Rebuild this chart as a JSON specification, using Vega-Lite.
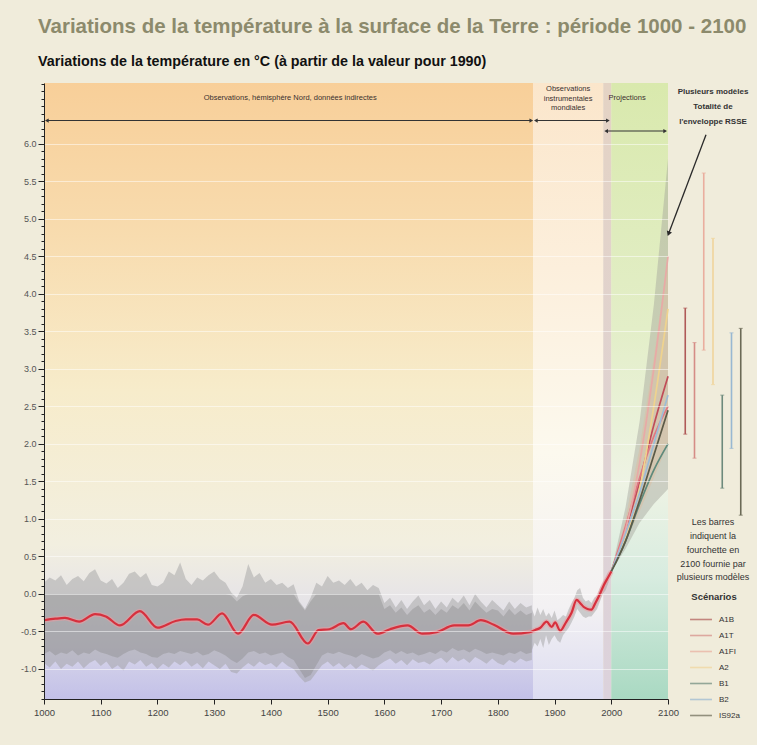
{
  "$schema": "https://vega.github.io/schema/vega-lite/v6.json",
  "background": "#f0ecdb",
  "padding": {"left": 5, "right": 7, "top": 17, "bottom": 26},
  "spacing": 8,
  "bounds": "flush",
  "title": {
    "text": "Variations de la température à la surface de la Terre : période 1000 - 2100",
    "subtitle": "Variations de la température en °C (à partir de la valeur pour 1990)",
    "anchor": "start", "frame": "group", "dx": -6, "offset": 14,
    "font": "Liberation Sans", "fontSize": 20.5, "fontWeight": "bold", "color": "#8c8a6c",
    "subtitleFont": "Liberation Sans", "subtitleFontSize": 14.3, "subtitleFontWeight": "bold",
    "subtitleColor": "#111111", "subtitlePadding": 17
  },
  "config": {"view": {"stroke": null}},
  "resolve": {"scale": {"color": "independent"}, "legend": {"color": "independent"}},
  "datasets": {
    "regions": [
      {"region": "proxy", "start": 1000, "end": 1862},
      {"region": "instr", "start": 1862, "end": 1986},
      {"region": "strip", "start": 1986, "end": 2000},
      {"region": "proj", "start": 2000, "end": 2100}
    ],
    "proxyband": [
      {"year": 1000, "hi": 0.15, "hi2": 0.0, "lo2": -0.8, "lo": -0.92},
      {"year": 1010, "hi": 0.22, "hi2": 0.0, "lo2": -0.76, "lo": -0.98},
      {"year": 1020, "hi": 0.18, "hi2": 0.0, "lo2": -0.82, "lo": -0.9},
      {"year": 1030, "hi": 0.25, "hi2": 0.0, "lo2": -0.78, "lo": -1.0},
      {"year": 1040, "hi": 0.12, "hi2": 0.0, "lo2": -0.8, "lo": -0.93},
      {"year": 1050, "hi": 0.2, "hi2": 0.0, "lo2": -0.75, "lo": -0.97},
      {"year": 1060, "hi": 0.24, "hi2": 0.0, "lo2": -0.82, "lo": -0.9},
      {"year": 1070, "hi": 0.17, "hi2": 0.0, "lo2": -0.78, "lo": -0.99},
      {"year": 1080, "hi": 0.28, "hi2": 0.0, "lo2": -0.8, "lo": -0.92},
      {"year": 1090, "hi": 0.33, "hi2": 0.0, "lo2": -0.74, "lo": -0.88},
      {"year": 1100, "hi": 0.18, "hi2": 0.0, "lo2": -0.78, "lo": -0.96},
      {"year": 1110, "hi": 0.14, "hi2": 0.0, "lo2": -0.8, "lo": -0.9},
      {"year": 1120, "hi": 0.2, "hi2": 0.0, "lo2": -0.83, "lo": -1.0},
      {"year": 1130, "hi": 0.08, "hi2": 0.0, "lo2": -0.85, "lo": -0.95},
      {"year": 1140, "hi": 0.15, "hi2": 0.0, "lo2": -0.8, "lo": -1.02},
      {"year": 1150, "hi": 0.27, "hi2": 0.0, "lo2": -0.76, "lo": -0.9},
      {"year": 1160, "hi": 0.3, "hi2": 0.0, "lo2": -0.74, "lo": -0.94},
      {"year": 1170, "hi": 0.22, "hi2": 0.0, "lo2": -0.78, "lo": -0.88},
      {"year": 1180, "hi": 0.28, "hi2": 0.0, "lo2": -0.8, "lo": -0.97},
      {"year": 1190, "hi": 0.12, "hi2": 0.0, "lo2": -0.84, "lo": -0.92},
      {"year": 1200, "hi": 0.1, "hi2": 0.0, "lo2": -0.85, "lo": -1.0},
      {"year": 1210, "hi": 0.15, "hi2": 0.0, "lo2": -0.8, "lo": -0.93},
      {"year": 1220, "hi": 0.3, "hi2": 0.0, "lo2": -0.78, "lo": -0.98},
      {"year": 1230, "hi": 0.25, "hi2": 0.0, "lo2": -0.8, "lo": -0.9},
      {"year": 1240, "hi": 0.42, "hi2": 0.0, "lo2": -0.76, "lo": -0.95},
      {"year": 1250, "hi": 0.2, "hi2": 0.0, "lo2": -0.78, "lo": -0.89},
      {"year": 1260, "hi": 0.12, "hi2": 0.0, "lo2": -0.8, "lo": -0.97},
      {"year": 1270, "hi": 0.22, "hi2": 0.0, "lo2": -0.77, "lo": -0.92},
      {"year": 1280, "hi": 0.18, "hi2": 0.0, "lo2": -0.82, "lo": -0.99},
      {"year": 1290, "hi": 0.25, "hi2": 0.0, "lo2": -0.8, "lo": -0.9},
      {"year": 1300, "hi": 0.3, "hi2": 0.0, "lo2": -0.75, "lo": -0.95},
      {"year": 1310, "hi": 0.2, "hi2": 0.0, "lo2": -0.78, "lo": -1.0},
      {"year": 1320, "hi": 0.15, "hi2": 0.0, "lo2": -0.82, "lo": -0.93},
      {"year": 1330, "hi": 0.02, "hi2": -0.02, "lo2": -0.88, "lo": -1.04},
      {"year": 1340, "hi": -0.05, "hi2": -0.1, "lo2": -0.92, "lo": -1.06},
      {"year": 1350, "hi": 0.1, "hi2": -0.03, "lo2": -0.86, "lo": -0.98},
      {"year": 1360, "hi": 0.4, "hi2": 0.0, "lo2": -0.78, "lo": -0.92},
      {"year": 1370, "hi": 0.22, "hi2": 0.0, "lo2": -0.76, "lo": -0.97},
      {"year": 1380, "hi": 0.28, "hi2": 0.0, "lo2": -0.8, "lo": -0.9},
      {"year": 1390, "hi": 0.15, "hi2": 0.0, "lo2": -0.78, "lo": -0.95},
      {"year": 1400, "hi": 0.2, "hi2": 0.0, "lo2": -0.82, "lo": -0.92},
      {"year": 1410, "hi": 0.12, "hi2": 0.0, "lo2": -0.8, "lo": -0.98},
      {"year": 1420, "hi": 0.15, "hi2": 0.0, "lo2": -0.78, "lo": -0.9},
      {"year": 1430, "hi": 0.08, "hi2": 0.0, "lo2": -0.84, "lo": -0.96},
      {"year": 1440, "hi": 0.13, "hi2": 0.0, "lo2": -0.88, "lo": -1.0},
      {"year": 1450, "hi": -0.1, "hi2": -0.12, "lo2": -1.0, "lo": -1.1},
      {"year": 1460, "hi": -0.2, "hi2": -0.22, "lo2": -1.12, "lo": -1.18},
      {"year": 1470, "hi": -0.05, "hi2": -0.1, "lo2": -1.08, "lo": -1.15},
      {"year": 1480, "hi": 0.15, "hi2": 0.0, "lo2": -0.95, "lo": -1.05},
      {"year": 1490, "hi": 0.1, "hi2": 0.0, "lo2": -0.82, "lo": -0.95},
      {"year": 1500, "hi": 0.24, "hi2": 0.0, "lo2": -0.78, "lo": -0.9},
      {"year": 1510, "hi": 0.15, "hi2": 0.0, "lo2": -0.8, "lo": -0.97},
      {"year": 1520, "hi": 0.18, "hi2": 0.0, "lo2": -0.77, "lo": -0.92},
      {"year": 1530, "hi": 0.12, "hi2": 0.0, "lo2": -0.8, "lo": -0.99},
      {"year": 1540, "hi": 0.2, "hi2": 0.0, "lo2": -0.82, "lo": -0.93},
      {"year": 1550, "hi": 0.1, "hi2": 0.0, "lo2": -0.85, "lo": -1.0},
      {"year": 1560, "hi": 0.15, "hi2": 0.0, "lo2": -0.8, "lo": -0.94},
      {"year": 1570, "hi": 0.05, "hi2": 0.0, "lo2": -0.83, "lo": -0.98},
      {"year": 1580, "hi": 0.12, "hi2": 0.0, "lo2": -0.86, "lo": -1.02},
      {"year": 1590, "hi": 0.08, "hi2": 0.0, "lo2": -0.84, "lo": -0.95},
      {"year": 1600, "hi": -0.12, "hi2": -0.2, "lo2": -0.78, "lo": -0.9},
      {"year": 1610, "hi": -0.05, "hi2": -0.15, "lo2": -0.75, "lo": -0.86},
      {"year": 1620, "hi": -0.18, "hi2": -0.25, "lo2": -0.8, "lo": -0.93},
      {"year": 1630, "hi": -0.08, "hi2": -0.18, "lo2": -0.76, "lo": -0.88},
      {"year": 1640, "hi": -0.2, "hi2": -0.28, "lo2": -0.8, "lo": -0.95},
      {"year": 1650, "hi": -0.1, "hi2": -0.2, "lo2": -0.78, "lo": -0.87},
      {"year": 1660, "hi": -0.02, "hi2": -0.15, "lo2": -0.82, "lo": -0.92},
      {"year": 1670, "hi": -0.15, "hi2": -0.25, "lo2": -0.8, "lo": -0.9},
      {"year": 1680, "hi": -0.08, "hi2": -0.2, "lo2": -0.77, "lo": -0.94},
      {"year": 1690, "hi": -0.2, "hi2": -0.28, "lo2": -0.8, "lo": -0.88},
      {"year": 1700, "hi": -0.1, "hi2": -0.2, "lo2": -0.75, "lo": -0.85},
      {"year": 1710, "hi": -0.18, "hi2": -0.25, "lo2": -0.78, "lo": -0.92},
      {"year": 1720, "hi": -0.05, "hi2": -0.15, "lo2": -0.72, "lo": -0.84},
      {"year": 1730, "hi": -0.12, "hi2": -0.2, "lo2": -0.76, "lo": -0.9},
      {"year": 1740, "hi": -0.02, "hi2": -0.12, "lo2": -0.74, "lo": -0.86},
      {"year": 1750, "hi": -0.15, "hi2": -0.22, "lo2": -0.78, "lo": -0.92},
      {"year": 1760, "hi": 0.0, "hi2": -0.1, "lo2": -0.73, "lo": -0.84},
      {"year": 1770, "hi": -0.1, "hi2": -0.18, "lo2": -0.76, "lo": -0.88},
      {"year": 1780, "hi": -0.18, "hi2": -0.25, "lo2": -0.8, "lo": -0.93},
      {"year": 1790, "hi": -0.08, "hi2": -0.2, "lo2": -0.78, "lo": -0.86},
      {"year": 1800, "hi": -0.15, "hi2": -0.22, "lo2": -0.8, "lo": -0.92},
      {"year": 1810, "hi": -0.22, "hi2": -0.3, "lo2": -0.82, "lo": -0.95},
      {"year": 1820, "hi": -0.1, "hi2": -0.2, "lo2": -0.78, "lo": -0.88},
      {"year": 1830, "hi": -0.2, "hi2": -0.28, "lo2": -0.8, "lo": -0.92},
      {"year": 1840, "hi": -0.12, "hi2": -0.22, "lo2": -0.76, "lo": -0.86},
      {"year": 1850, "hi": -0.18, "hi2": -0.28, "lo2": -0.8, "lo": -0.9},
      {"year": 1860, "hi": -0.15, "hi2": -0.25, "lo2": -0.78, "lo": -0.88}
    ],
    "instr": [
      {"year": 1860, "hi": -0.2, "lo": -0.75},
      {"year": 1865, "hi": -0.3, "lo": -0.65},
      {"year": 1870, "hi": -0.18, "lo": -0.7},
      {"year": 1875, "hi": -0.28, "lo": -0.6},
      {"year": 1880, "hi": -0.2, "lo": -0.72},
      {"year": 1885, "hi": -0.3, "lo": -0.55},
      {"year": 1890, "hi": -0.25, "lo": -0.68},
      {"year": 1895, "hi": -0.32, "lo": -0.6},
      {"year": 1900, "hi": -0.22, "lo": -0.55},
      {"year": 1905, "hi": -0.35, "lo": -0.62},
      {"year": 1910, "hi": -0.32, "lo": -0.65},
      {"year": 1915, "hi": -0.28, "lo": -0.55},
      {"year": 1920, "hi": -0.3, "lo": -0.5},
      {"year": 1925, "hi": -0.2, "lo": -0.45},
      {"year": 1930, "hi": -0.12, "lo": -0.38},
      {"year": 1935, "hi": -0.05, "lo": -0.3},
      {"year": 1940, "hi": 0.05, "lo": -0.2},
      {"year": 1945, "hi": 0.08, "lo": -0.25},
      {"year": 1950, "hi": -0.05, "lo": -0.3},
      {"year": 1955, "hi": -0.1, "lo": -0.32},
      {"year": 1960, "hi": -0.08, "lo": -0.3},
      {"year": 1965, "hi": -0.12, "lo": -0.3},
      {"year": 1970, "hi": -0.05, "lo": -0.25},
      {"year": 1975, "hi": -0.02, "lo": -0.2},
      {"year": 1980, "hi": 0.08, "lo": -0.1},
      {"year": 1985, "hi": 0.15, "lo": 0.0},
      {"year": 1990, "hi": 0.22, "lo": 0.05},
      {"year": 1995, "hi": 0.3, "lo": 0.15}
    ],
    "obs": [
      {"year": 1000, "temp": -0.35}, {"year": 1020, "temp": -0.33}, {"year": 1037, "temp": -0.32},
      {"year": 1062, "temp": -0.37}, {"year": 1090, "temp": -0.27}, {"year": 1109, "temp": -0.3},
      {"year": 1134, "temp": -0.42}, {"year": 1169, "temp": -0.23}, {"year": 1200, "temp": -0.45},
      {"year": 1232, "temp": -0.36}, {"year": 1250, "temp": -0.34}, {"year": 1270, "temp": -0.34},
      {"year": 1289, "temp": -0.41}, {"year": 1314, "temp": -0.26}, {"year": 1342, "temp": -0.53},
      {"year": 1370, "temp": -0.28}, {"year": 1402, "temp": -0.41}, {"year": 1433, "temp": -0.37},
      {"year": 1465, "temp": -0.66}, {"year": 1484, "temp": -0.48}, {"year": 1503, "temp": -0.47},
      {"year": 1528, "temp": -0.39}, {"year": 1541, "temp": -0.47}, {"year": 1563, "temp": -0.37},
      {"year": 1588, "temp": -0.53}, {"year": 1610, "temp": -0.47}, {"year": 1641, "temp": -0.42},
      {"year": 1667, "temp": -0.53}, {"year": 1692, "temp": -0.51}, {"year": 1723, "temp": -0.42},
      {"year": 1748, "temp": -0.42}, {"year": 1770, "temp": -0.35}, {"year": 1793, "temp": -0.41},
      {"year": 1827, "temp": -0.53}, {"year": 1856, "temp": -0.51}, {"year": 1866, "temp": -0.48},
      {"year": 1875, "temp": -0.45}, {"year": 1886, "temp": -0.37}, {"year": 1895, "temp": -0.44},
      {"year": 1901, "temp": -0.38}, {"year": 1910, "temp": -0.49}, {"year": 1920, "temp": -0.38},
      {"year": 1930, "temp": -0.25}, {"year": 1939, "temp": -0.08}, {"year": 1945, "temp": -0.12},
      {"year": 1951, "temp": -0.17}, {"year": 1958, "temp": -0.2}, {"year": 1965, "temp": -0.21},
      {"year": 1972, "temp": -0.12}, {"year": 1980, "temp": 0.0}, {"year": 1987, "temp": 0.12},
      {"year": 1995, "temp": 0.23}, {"year": 2000, "temp": 0.3}
    ],
    "env": [
      {"year": 2000, "oLo": 0.3, "oHi": 0.3, "iLo": 0.3, "iHi": 0.3},
      {"year": 2025, "oLo": 0.6, "oHi": 1.15, "iLo": 0.7, "iHi": 1.0},
      {"year": 2050, "oLo": 0.95, "oHi": 2.3, "iLo": 1.1, "iHi": 1.95},
      {"year": 2075, "oLo": 1.2, "oHi": 3.85, "iLo": 1.55, "iHi": 3.15},
      {"year": 2100, "oLo": 1.4, "oHi": 5.8, "iLo": 2.0, "iHi": 4.5}
    ],
    "scen": [
      {"scenario": "A1B", "year": 2000, "temp": 0.3}, {"scenario": "A1B", "year": 2025, "temp": 0.85}, {"scenario": "A1B", "year": 2050, "temp": 1.5}, {"scenario": "A1B", "year": 2075, "temp": 2.25}, {"scenario": "A1B", "year": 2100, "temp": 2.9},
      {"scenario": "A1T", "year": 2000, "temp": 0.3}, {"scenario": "A1T", "year": 2025, "temp": 0.9}, {"scenario": "A1T", "year": 2050, "temp": 1.55}, {"scenario": "A1T", "year": 2075, "temp": 2.1}, {"scenario": "A1T", "year": 2100, "temp": 2.5},
      {"scenario": "A1FI", "year": 2000, "temp": 0.3}, {"scenario": "A1FI", "year": 2025, "temp": 0.85}, {"scenario": "A1FI", "year": 2050, "temp": 1.75}, {"scenario": "A1FI", "year": 2075, "temp": 3.0}, {"scenario": "A1FI", "year": 2100, "temp": 4.5},
      {"scenario": "A2", "year": 2000, "temp": 0.3}, {"scenario": "A2", "year": 2025, "temp": 0.75}, {"scenario": "A2", "year": 2050, "temp": 1.4}, {"scenario": "A2", "year": 2075, "temp": 2.5}, {"scenario": "A2", "year": 2100, "temp": 3.8},
      {"scenario": "B1", "year": 2000, "temp": 0.3}, {"scenario": "B1", "year": 2025, "temp": 0.7}, {"scenario": "B1", "year": 2050, "temp": 1.2}, {"scenario": "B1", "year": 2075, "temp": 1.65}, {"scenario": "B1", "year": 2100, "temp": 2.0},
      {"scenario": "B2", "year": 2000, "temp": 0.3}, {"scenario": "B2", "year": 2025, "temp": 0.8}, {"scenario": "B2", "year": 2050, "temp": 1.35}, {"scenario": "B2", "year": 2075, "temp": 2.0}, {"scenario": "B2", "year": 2100, "temp": 2.65},
      {"scenario": "IS92a", "year": 2000, "temp": 0.3}, {"scenario": "IS92a", "year": 2025, "temp": 0.7}, {"scenario": "IS92a", "year": 2050, "temp": 1.25}, {"scenario": "IS92a", "year": 2075, "temp": 1.85}, {"scenario": "IS92a", "year": 2100, "temp": 2.45}
    ],
    "bars": [
      {"scenario": "A1B", "low": 2.13, "high": 3.81},
      {"scenario": "A1T", "low": 1.81, "high": 3.35},
      {"scenario": "A1FI", "low": 3.25, "high": 5.61},
      {"scenario": "A2", "low": 2.79, "high": 4.74},
      {"scenario": "B1", "low": 1.41, "high": 2.65},
      {"scenario": "B2", "low": 1.94, "high": 3.48},
      {"scenario": "IS92a", "low": 1.05, "high": 3.54}
    ],
    "labels": [
      {"label": "Observations, hémisphère Nord, données indirectes", "year": 1434, "temp": 6.67},
      {"label": "Observations\ninstrumentales\nmondiales", "year": 1924, "temp": 6.78},
      {"label": "Projections", "year": 2028, "temp": 6.67}
    ],
    "arrows": [
      {"start": 1005, "end": 1859, "temp": 6.31},
      {"start": 1867, "end": 1994, "temp": 6.31},
      {"start": 1991, "end": 2095, "temp": 6.17}
    ],
    "diag": [
      {"fromYear": 2167, "fromTemp": 6.12, "toYear": 2101, "toTemp": 4.8}
    ],
    "sidetext": [
      {"kind": "top", "label": "Plusieurs modèles\nTotalité de\nl'enveloppe RSSE", "temp": 6.74},
      {"kind": "bottom", "label": "Les barres\nindiquent la\nfourchette en\n2100 fournie par\nplusieurs modèles", "temp": 1.01}
    ]
  },
  "hconcat": [
    {
      "width": 624,
      "height": 616,
      "resolve": {"axis": {"y": "independent"}},
      "layer": [
        {
          "data": {"name": "regions"},
          "transform": [{"filter": "datum.region === 'proxy'"}],
          "mark": {"type": "rect", "color": {"gradient": "linear", "x1": 0, "y1": 0, "x2": 0, "y2": 1, "stops": [
            {"offset": 0, "color": "#f8cf99"}, {"offset": 0.25, "color": "#f8dcaf"}, {"offset": 0.5, "color": "#f7eccb"},
            {"offset": 0.75, "color": "#f2efe0"}, {"offset": 0.87, "color": "#e2e0ea"}, {"offset": 1, "color": "#c3c1e8"}]}},
          "encoding": {
            "x": {"field": "start", "type": "quantitative", "scale": {"domain": [1000, 2100], "nice": false, "zero": false},
              "axis": {"values": [1000, 1100, 1200, 1300, 1400, 1500, 1600, 1700, 1800, 1900, 2000, 2100], "format": "d", "title": null,
                "labelFont": "Liberation Sans", "labelFontSize": 9.5, "labelColor": "#444444", "tickSize": 5, "tickColor": "#222222",
                "domainColor": "#222222", "grid": false, "labelPadding": 3, "minExtent": 20, "maxExtent": 20, "zindex": 1, "labelFlush": false}},
            "x2": {"field": "end"}
          }
        },
        {
          "data": {"name": "regions"},
          "transform": [{"filter": "datum.region === 'instr'"}],
          "mark": {"type": "rect", "color": {"gradient": "linear", "x1": 0, "y1": 0, "x2": 0, "y2": 1, "stops": [
            {"offset": 0, "color": "#fbe6cb"}, {"offset": 0.3, "color": "#fcefdc"}, {"offset": 0.6, "color": "#fcf9ee"},
            {"offset": 0.85, "color": "#f3f1f3"}, {"offset": 1, "color": "#dcdcf1"}]}},
          "encoding": {"x": {"field": "start", "type": "quantitative"}, "x2": {"field": "end"}}
        },
        {
          "data": {"name": "regions"},
          "transform": [{"filter": "datum.region === 'strip'"}],
          "mark": {"type": "rect", "color": {"gradient": "linear", "x1": 0, "y1": 0, "x2": 0, "y2": 1, "stops": [
            {"offset": 0, "color": "#e4d3c4"}, {"offset": 1, "color": "#dcd2dc"}]}},
          "encoding": {"x": {"field": "start", "type": "quantitative"}, "x2": {"field": "end"}}
        },
        {
          "data": {"name": "regions"},
          "transform": [{"filter": "datum.region === 'proj'"}],
          "mark": {"type": "rect", "color": {"gradient": "linear", "x1": 0, "y1": 0, "x2": 0, "y2": 1, "stops": [
            {"offset": 0, "color": "#d9e9ad"}, {"offset": 0.4, "color": "#e3eec8"}, {"offset": 0.65, "color": "#eef3e4"},
            {"offset": 0.8, "color": "#d8ece0"}, {"offset": 1, "color": "#a9d9c2"}]}},
          "encoding": {"x": {"field": "start", "type": "quantitative"}, "x2": {"field": "end"}}
        },
        {
          "data": {"name": "proxyband"},
          "mark": {"type": "area", "color": "#9c9c9c", "opacity": 0.45},
          "encoding": {
            "x": {"field": "year", "type": "quantitative"},
            "y": {"field": "hi", "type": "quantitative", "scale": {"domain": [-1.4, 6.81], "nice": false, "zero": false},
              "axis": {
                "orient": "left", "title": null, "grid": true, "gridColor": "#ffffff", "gridOpacity": 0.5,
                "values": [-1, -0.5, 0, 0.5, 1, 1.5, 2, 2.5, 3, 3.5, 4, 4.5, 5, 5.5, 6],
                "labelExpr": "replace(format(datum.value,'.1f'),'\u2212','-')",
                "tickSize": 6, "tickColor": "#222222", "domainColor": "#222222", "labelFont": "Liberation Sans",
                "labelFontSize": 9, "labelColor": "#555555", "labelPadding": 2, "minExtent": 39, "maxExtent": 39, "zindex": 1
              }},
            "y2": {"field": "lo"}
          }
        },
        {
          "data": {"name": "proxyband"},
          "mark": {"type": "area", "color": "#8a8a8a", "opacity": 0.4},
          "encoding": {
            "x": {"field": "year", "type": "quantitative"},
            "y": {"field": "hi2", "type": "quantitative",
              "axis": {"orient": "left", "title": null, "grid": false, "labels": false, "domain": false,
                "values": [-1.4,-1.3,-1.2,-1.1,-1.0,-0.9,-0.8,-0.7,-0.6,-0.5,-0.4,-0.3,-0.2,-0.1,0,0.1,0.2,0.3,0.4,0.5,0.6,0.7,0.8,0.9,1,1.1,1.2,1.3,1.4,1.5,1.6,1.7,1.8,1.9,2,2.1,2.2,2.3,2.4,2.5,2.6,2.7,2.8,2.9,3,3.1,3.2,3.3,3.4,3.5,3.6,3.7,3.8,3.9,4,4.1,4.2,4.3,4.4,4.5,4.6,4.7,4.8,4.9,5,5.1,5.2,5.3,5.4,5.5,5.6,5.7,5.8,5.9,6,6.1,6.2,6.3,6.4,6.5,6.6,6.7,6.8],
                "tickSize": 3, "tickColor": "#222222", "minExtent": 39, "maxExtent": 39, "zindex": 1}},
            "y2": {"field": "lo2"}
          }
        },
        {
          "data": {"name": "instr"},
          "mark": {"type": "area", "color": "#9c9c9c", "opacity": 0.45},
          "encoding": {"x": {"field": "year", "type": "quantitative"}, "y": {"field": "hi", "type": "quantitative", "axis": null}, "y2": {"field": "lo"}}
        },
        {
          "data": {"name": "env"},
          "mark": {"type": "area", "color": "#a3a39b", "opacity": 0.45},
          "encoding": {"x": {"field": "year", "type": "quantitative"}, "y": {"field": "oHi", "type": "quantitative", "axis": null}, "y2": {"field": "oLo"}}
        },
        {
          "data": {"name": "env"},
          "mark": {"type": "area", "color": "#d9bfa5", "opacity": 0.6},
          "encoding": {"x": {"field": "year", "type": "quantitative"}, "y": {"field": "iHi", "type": "quantitative", "axis": null}, "y2": {"field": "iLo"}}
        },
        {
          "data": {"name": "scen"},
          "mark": {"type": "line", "strokeWidth": 1.7, "interpolate": "monotone"},
          "encoding": {
            "x": {"field": "year", "type": "quantitative"},
            "y": {"field": "temp", "type": "quantitative", "axis": null},
            "color": {"field": "scenario", "type": "nominal", "legend": null,
              "scale": {"domain": ["A1B", "A1T", "A1FI", "A2", "B1", "B2", "IS92a"],
                "range": ["#c04c58", "#e07882", "#e8aaa6", "#efd38e", "#5e8a7c", "#9dbcd6", "#5b5a48"]}}
          }
        },
        {
          "data": {"name": "obs"},
          "mark": {"type": "line", "color": "#f29aa0", "strokeWidth": 5, "opacity": 0.5, "interpolate": "monotone"},
          "encoding": {"x": {"field": "year", "type": "quantitative"}, "y": {"field": "temp", "type": "quantitative", "axis": null}}
        },
        {
          "data": {"name": "obs"},
          "mark": {"type": "line", "color": "#d7303d", "strokeWidth": 2.2, "interpolate": "monotone"},
          "encoding": {"x": {"field": "year", "type": "quantitative"}, "y": {"field": "temp", "type": "quantitative", "axis": null}}
        },
        {
          "data": {"name": "labels"},
          "mark": {"type": "text", "align": "center", "baseline": "top", "fontSize": 7.5, "font": "Liberation Sans", "color": "#3a3030", "lineBreak": "\n", "lineHeight": 9.5},
          "encoding": {"x": {"field": "year", "type": "quantitative"}, "y": {"field": "temp", "type": "quantitative", "axis": null}, "text": {"field": "label"}}
        },
        {
          "data": {"name": "arrows"},
          "mark": {"type": "rule", "color": "#333333", "strokeWidth": 1.2},
          "encoding": {"x": {"field": "start", "type": "quantitative"}, "x2": {"field": "end"}, "y": {"field": "temp", "type": "quantitative", "axis": null}}
        },
        {
          "data": {"name": "arrows"},
          "mark": {"type": "point", "shape": "triangle-left", "filled": true, "size": 18, "color": "#333333", "opacity": 1},
          "encoding": {"x": {"field": "start", "type": "quantitative"}, "y": {"field": "temp", "type": "quantitative", "axis": null}}
        },
        {
          "data": {"name": "arrows"},
          "mark": {"type": "point", "shape": "triangle-right", "filled": true, "size": 18, "color": "#333333", "opacity": 1},
          "encoding": {"x": {"field": "end", "type": "quantitative"}, "y": {"field": "temp", "type": "quantitative", "axis": null}}
        },
        {
          "data": {"name": "diag"},
          "mark": {"type": "rule", "color": "#2a2a2a", "strokeWidth": 1.3},
          "encoding": {"x": {"field": "fromYear", "type": "quantitative"}, "y": {"field": "fromTemp", "type": "quantitative", "axis": null}, "x2": {"field": "toYear"}, "y2": {"field": "toTemp"}}
        },
        {
          "data": {"name": "diag"},
          "mark": {"type": "point", "shape": "triangle-up", "filled": true, "size": 30, "angle": 201, "color": "#2a2a2a", "opacity": 1},
          "encoding": {"x": {"field": "toYear", "type": "quantitative"}, "y": {"field": "toTemp", "type": "quantitative", "axis": null}}
        }
      ]
    },
    {
      "width": 74,
      "height": 616,
      "layer": [
        {
          "data": {"name": "bars"},
          "mark": {"type": "rule", "strokeWidth": 1.6},
          "encoding": {
            "x": {"field": "scenario", "type": "nominal", "axis": null,
              "scale": {"type": "point", "padding": 1.1, "domain": ["A1B", "A1T", "A1FI", "A2", "B1", "B2", "IS92a"]}},
            "y": {"field": "low", "type": "quantitative", "axis": null, "scale": {"domain": [-1.4, 6.81], "nice": false, "zero": false}},
            "y2": {"field": "high"},
            "color": {"field": "scenario", "type": "nominal",
              "scale": {"domain": ["A1B", "A1T", "A1FI", "A2", "B1", "B2", "IS92a"],
                "range": ["#b05a58", "#d58c86", "#eaae9e", "#f0d59c", "#6d8a7c", "#98b8d2", "#6b6a56"]},
              "legend": {"orient": "none", "legendX": 13, "legendY": 509, "title": "Scénarios", "symbolType": "stroke",
                "symbolSize": 480, "symbolStrokeWidth": 1.6, "labelFontSize": 8, "labelFont": "Liberation Sans",
                "labelColor": "#333333", "titleFontSize": 9.5, "titleFont": "Liberation Sans", "titleFontWeight": "bold",
                "titleColor": "#333333", "titleAnchor": "middle", "labelOffset": 6, "rowPadding": 0, "titlePadding": 6}}
          }
        },
        {
          "data": {"name": "bars"},
          "mark": {"type": "tick", "orient": "horizontal", "size": 4, "thickness": 1},
          "encoding": {
            "x": {"field": "scenario", "type": "nominal"},
            "y": {"field": "low", "type": "quantitative"},
            "color": {"field": "scenario", "type": "nominal"}
          }
        },
        {
          "data": {"name": "bars"},
          "mark": {"type": "tick", "orient": "horizontal", "size": 4, "thickness": 1},
          "encoding": {
            "x": {"field": "scenario", "type": "nominal"},
            "y": {"field": "high", "type": "quantitative"},
            "color": {"field": "scenario", "type": "nominal"}
          }
        },
        {
          "data": {"name": "sidetext"},
          "transform": [{"filter": "datum.kind === 'top'"}],
          "mark": {"type": "text", "align": "center", "baseline": "top", "fontSize": 8, "fontWeight": "bold", "font": "Liberation Sans", "color": "#333333", "lineBreak": "\n", "lineHeight": 15},
          "encoding": {"y": {"field": "temp", "type": "quantitative"}, "text": {"field": "label"}}
        },
        {
          "data": {"name": "sidetext"},
          "transform": [{"filter": "datum.kind === 'bottom'"}],
          "mark": {"type": "text", "align": "center", "baseline": "top", "fontSize": 9, "font": "Liberation Sans", "color": "#333333", "lineBreak": "\n", "lineHeight": 13.8},
          "encoding": {"y": {"field": "temp", "type": "quantitative"}, "text": {"field": "label"}}
        }
      ]
    }
  ]
}
